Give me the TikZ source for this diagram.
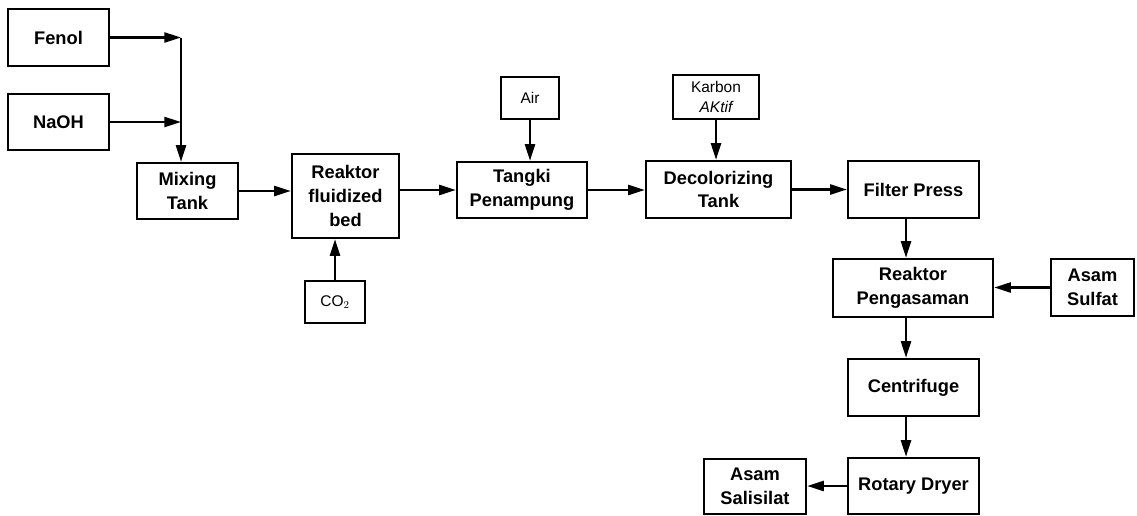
\documentclass[tikz,border=0pt]{standalone}
\usepackage{fontspec}
\setmainfont{Liberation Sans}
\usetikzlibrary{arrows.meta}

\begin{document}
\begin{tikzpicture}[x=0.3mm,y=-0.3mm,
  unit/.style={draw=black,line width=0.7mm,align=center,inner sep=0pt,
               font=\fontsize{15.6}{20.2}\selectfont\bfseries},
  feed/.style={unit,font=\fontsize{13.2}{17}\selectfont},
  sz/.style 2 args={minimum width=#1mm,minimum height=#2mm},
  arr/.style={-{Triangle[length=5mm,width=3mm]},line width=0.7mm}
]
\useasboundingbox (0,0) rectangle (1137,515);
% feeds
\node[unit,sz={30.3}{17.1}] (fenol) at (58.5,37.5) {Fenol};
\node[unit,sz={30.3}{16.8}] (naoh) at (58.5,122) {NaOH};
\node[feed,sz={18}{12.6}] (co2) at (335,302) {CO$_2$};
\node[feed,sz={17.4}{12.6}] (air) at (530,98) {Air};
\node[feed,sz={25.8}{13.2}] (karbon) at (716,97) {Karbon\\\itshape AKtif};
\node[unit,sz={24.9}{17.1}] (sulfat) at (1092.5,287.5) {Asam\\Sulfat};
% process units
\node[unit,sz={30.3}{16.8}] (mix) at (187.5,191) {Mixing\\Tank};
\node[unit,sz={32.1}{25.2}] (reaktor) at (345.5,196) {Reaktor\\fluidized\\bed};
\node[unit,sz={39}{16.8}] (tangki) at (522,190) {Tangki\\Penampung};
\node[unit,sz={43.5}{17.1}] (decol) at (718.5,189.5) {Decolorizing\\Tank};
\node[unit,sz={39.3}{17.1}] (filter) at (913.5,189.5) {Filter Press};
\node[unit,sz={48}{17.4}] (asam) at (913,288) {Reaktor\\Pengasaman};
\node[unit,sz={39.3}{17.1}] (centri) at (913.5,387.5) {Centrifuge};
\node[unit,sz={39.3}{16.8}] (dryer) at (913.5,486) {Rotary Dryer};
\node[unit,sz={30.6}{16.5}] (produk) at (755,486.5) {Asam\\Salisilat};
% junctions
\coordinate (jn) at (181,37.5);
\coordinate (col) at (906,0);
% flows
\draw[arr] (fenol.east) -- (jn);
\draw[arr] (naoh.east) -- (naoh.east -| jn);
\draw[arr] (jn) -- (jn |- mix.north);
\draw[arr] (mix.east) -- (mix.east -| reaktor.west);
\draw[arr] (co2.north) -- (co2.north |- reaktor.south);
\draw[arr] (reaktor.east |- tangki.west) -- (tangki.west);
\draw[arr] (air.south) -- (air.south |- tangki.north);
\draw[arr] (tangki.east) -- (tangki.east -| decol.west);
\draw[arr] (karbon.south) -- (karbon.south |- decol.north);
\draw[arr] (decol.east) -- (decol.east -| filter.west);
\draw[arr] (col |- filter.south) -- (col |- asam.north);
\draw[arr] (sulfat.west) -- (sulfat.west -| asam.east);
\draw[arr] (col |- asam.south) -- (col |- centri.north);
\draw[arr] (col |- centri.south) -- (col |- dryer.north);
\draw[arr] (dryer.west) -- (dryer.west -| produk.east);
\end{tikzpicture}
\end{document}
